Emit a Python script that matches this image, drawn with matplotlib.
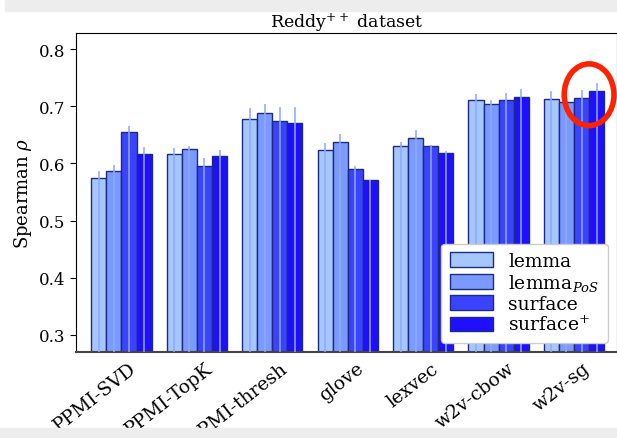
import numpy as np
import matplotlib
matplotlib.use("Agg")
import matplotlib.pyplot as plt
from matplotlib.patches import Rectangle, Ellipse

plt.rcParams['font.family'] = ['DejaVu Serif']
plt.rcParams['mathtext.fontset'] = 'dejavuserif'

categories = ['PPMI-SVD', 'PPMI-TopK', 'PPMI-thresh', 'glove', 'lexvec', 'w2v-cbow', 'w2v-sg']
series = ['lemma', 'lemma$_{PoS}$', 'surface', 'surface$^{+}$']

lemma = [0.574, 0.617, 0.678, 0.623, 0.630, 0.710, 0.712]
lemma_pos = [0.587, 0.625, 0.688, 0.638, 0.645, 0.703, 0.708]
surface = [0.655, 0.596, 0.674, 0.590, 0.631, 0.710, 0.715]
surface_plus = [0.617, 0.613, 0.670, 0.570, 0.618, 0.716, 0.726]

err_lemma = [0.013, 0.010, 0.018, 0.012, 0.008, 0.012, 0.014]
err_lemma_pos = [0.010, 0.006, 0.015, 0.013, 0.013, 0.008, 0.003]
err_surface = [0.010, 0.013, 0.025, 0.006, 0.001, 0.013, 0.013]
err_surface_plus = [0.011, 0.010, 0.028, 0.001, 0.003, 0.014, 0.014]

values = [lemma, lemma_pos, surface, surface_plus]
errors = [err_lemma, err_lemma_pos, err_surface, err_surface_plus]
colors = ['#a6c6ff', '#7a9aff', '#3a44ff', '#1e0fff']

fig = plt.figure(figsize=(6.17, 4.39), dpi=100)
ax = fig.add_axes([76/617, 1-353/439, 541/617, 319/439])

x = np.arange(len(categories))
w = 0.2
for i, (vals, errs, c, lab) in enumerate(zip(values, errors, colors, series)):
    pos = x + (i - 1.5) * w
    ax.bar(pos, vals, width=w, color=c, edgecolor='#1c2a80', linewidth=1.0,
           label=lab, zorder=2)
    vals = np.array(vals)
    ax.errorbar(pos, vals, yerr=[vals, errs], fmt='none', ecolor='#8fa8ff',
                elinewidth=1.4, alpha=0.8, capsize=0, zorder=3)

ax.set_xlim(-0.603, 6.57)
ax.set_ylim(0.27, 0.828)
ax.set_yticks([0.3, 0.4, 0.5, 0.6, 0.7, 0.8])
ax.set_xticks(x + 0.25)
ax.set_xticklabels(categories, rotation=38, ha='right', fontsize=13.5)
ax.tick_params(axis='x', length=0, pad=5)
ax.tick_params(axis='y', labelsize=12, length=4, direction='out')
ax.set_ylabel('Spearman $\\rho$', fontsize=13)
ax.set_title('Reddy$^{++}$ dataset', fontsize=12.5, pad=3)
ax.spines['bottom'].set_color('#444444')
ax.spines['bottom'].set_linewidth(1.5)

leg = ax.legend(loc='lower right', fontsize=13.5, handlelength=2.3,
                handleheight=0.8, labelspacing=0.1, borderpad=0.45,
                handletextpad=0.8, fancybox=True, framealpha=1.0,
                edgecolor='#cccccc')

# annotation circle around the w2v-sg top bars
ax.add_patch(Ellipse((6 + 0.2, 0.720), width=0.66, height=0.108, fill=False,
                     edgecolor='#ff2200', linewidth=4, zorder=5, clip_on=False))

# screenshot gray bands
fig.patches.append(Rectangle((5/617, 1-12/439), 1, 12/439, transform=fig.transFigure,
                             color='#ededed', zorder=-1))
fig.patches.append(Rectangle((0, 0), 1, 10/439, transform=fig.transFigure,
                             color='#ededed', zorder=10))

fig.savefig('out.png', dpi=100)
